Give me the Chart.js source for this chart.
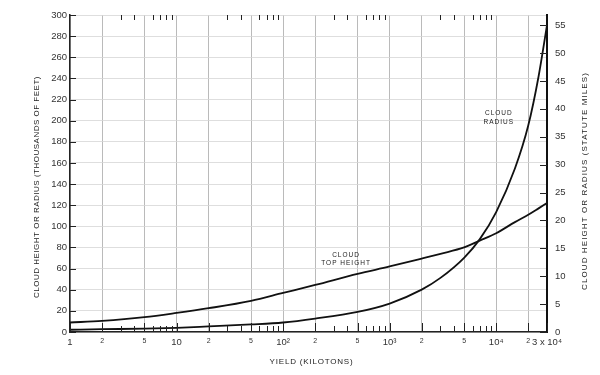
<!DOCTYPE html>
<html>
<head>
<meta charset="utf-8">
<script src="https://cdn.jsdelivr.net/npm/chart.js@4.4.0/dist/chart.umd.min.js"></script>
<style>
  body { margin: 0; background: #fff; }
  #wrap { width: 600px; height: 375px; }
</style>
</head>
<body>
<div id="wrap"><canvas id="cloudChart" width="600" height="375"></canvas></div>
<script>
// Yield in kilotons (log axis)
const yields = [1, 2, 5, 10, 20, 50, 100, 200, 500, 1000, 2000, 3000, 5000, 7000, 10000, 15000, 20000, 25000, 30000];
// Cloud top height, thousands of feet
const topHeight = [9, 10.5, 14, 18, 22.5, 29.5, 37, 44.5, 55, 62, 69.5, 74, 80, 86.5, 93.5, 104, 111, 117, 122];
// Cloud radius, statute miles
const radius = [0.4, 0.5, 0.6, 0.75, 1.0, 1.35, 1.7, 2.4, 3.6, 5.1, 7.6, 9.7, 13.3, 16.6, 21.5, 29.3, 37, 45.8, 55];

// Tick labels
const xTickValues = [1, 2, 5, 10, 20, 50, 100, 200, 500, 1000, 2000, 5000, 10000, 20000, 30000];
const xTickLabels = ['1', '2', '5', '10', '2', '5', '10²', '2', '5', '10³', '2', '5', '10⁴', '2', '3 x 10⁴'];
const xMajorLabels = ['1', '10', '10²', '10³', '10⁴', '3 x 10⁴'];
const minorSteps = [3, 4, 6, 7, 8, 9];

const FEET_PER_MILE = 5.28; // thousands of feet in a mile
const leftMax = 300;

const font = "'Liberation Sans', 'DejaVu Sans', sans-serif";

function toPoints(values) {
    return yields.map((x, i) => ({ x: x, y: values[i] }));
}

// draws axis titles, inward tick marks and curve labels
const decorations = {
    id: 'decorations',
    afterDraw(chart) {
        const ctx = chart.ctx;
        const a = chart.chartArea;
        const x = chart.scales.x, y = chart.scales.y, y2 = chart.scales.y2;

        function line(x1, y1, x2, y2_) {
            ctx.beginPath();
            ctx.moveTo(x1, y1);
            ctx.lineTo(x2, y2_);
            ctx.stroke();
        }

        ctx.save();
        ctx.strokeStyle = '#222';
        ctx.lineWidth = 1;

        // left axis ticks, pointing in
        y.ticks.forEach(t => {
            const py = Math.round(y.getPixelForValue(t.value)) + 0.5;
            line(a.left, py, a.left + 6, py);
        });
        // right axis ticks, pointing in
        y2.ticks.forEach(t => {
            const py = Math.round(y2.getPixelForValue(t.value)) + 0.5;
            line(a.right - 7, py, a.right, py);
        });
        // x axis: major ticks at bottom
        xTickValues.forEach(v => {
            const px = Math.round(x.getPixelForValue(v)) + 0.5;
            line(px, a.bottom, px, a.bottom - 9);
        });
        // x axis: minor ticks at bottom and top
        for (let d = 1; d <= 1000; d *= 10) {
            minorSteps.forEach(s => {
                const px = Math.round(x.getPixelForValue(s * d)) + 0.5;
                line(px, a.bottom, px, a.bottom - 6);
                line(px, a.top, px, a.top + 5);
            });
        }

        // curve labels
        ctx.fillStyle = '#222';
        ctx.font = '6.5px ' + font;
        ctx.letterSpacing = '1px';
        ctx.textAlign = 'center';
        ctx.textBaseline = 'middle';
        const hx = x.getPixelForValue(390);
        ctx.fillText('CLOUD', hx, y.getPixelForValue(73));
        ctx.fillText('TOP HEIGHT', hx, y.getPixelForValue(65));
        const rx = x.getPixelForValue(10600);
        ctx.fillText('CLOUD', rx, y.getPixelForValue(207));
        ctx.fillText('RADIUS', rx, y.getPixelForValue(199));

        // axis titles
        ctx.font = '8px ' + font;
        ctx.letterSpacing = '0.5px';
        ctx.save();
        ctx.translate(37, 187);
        ctx.rotate(-Math.PI / 2);
        ctx.fillText('CLOUD HEIGHT OR RADIUS (THOUSANDS OF FEET)', 0, 0);
        ctx.restore();
        ctx.letterSpacing = '1.1px';
        ctx.save();
        ctx.translate(585, 181);
        ctx.rotate(-Math.PI / 2);
        ctx.fillText('CLOUD HEIGHT OR RADIUS (STATUTE MILES)', 0, 0);
        ctx.restore();
        ctx.letterSpacing = '0.8px';
        ctx.fillText('YIELD (KILOTONS)', (a.left + a.right) / 2 + 3, 362);

        ctx.restore();
    }
};

const chartCtx = document.getElementById('cloudChart').getContext('2d');
const cloudChart = new Chart(chartCtx, {
    type: 'line',
    data: {
        datasets: [{
            label: 'Cloud top height',
            data: toPoints(topHeight),
            yAxisID: 'y',
            borderColor: '#111',
            borderWidth: 1.8,
            pointRadius: 0,
            cubicInterpolationMode: 'monotone'
        }, {
            label: 'Cloud radius',
            data: toPoints(radius),
            yAxisID: 'y2',
            borderColor: '#111',
            borderWidth: 1.8,
            pointRadius: 0,
            cubicInterpolationMode: 'monotone'
        }]
    },
    options: {
        responsive: false,
        animation: false,
        layout: { padding: { top: 15, left: 0, right: 0, bottom: 0 } },
        plugins: {
            legend: { display: false },
            tooltip: { enabled: false }
        },
        scales: {
            x: {
                type: 'logarithmic',
                min: 1,
                max: 30000,
                afterBuildTicks(scale) {
                    scale.ticks = xTickValues.map(v => ({ value: v }));
                },
                afterFit(scale) { scale.height = 43; },
                grid: { color: '#a8a8a8', lineWidth: 0.8, drawTicks: false },
                border: { color: '#222', width: 1.5 },
                ticks: {
                    autoSkip: false,
                    maxRotation: 0,
                    padding: 5,
                    color: '#333',
                    font: c => ({
                        family: font,
                        size: (c.tick && xMajorLabels.includes(xTickLabels[c.index])) ? 9.5 : 7
                    }),
                    callback: (value, index) => xTickLabels[index]
                }
            },
            y: {
                position: 'left',
                min: 0,
                max: leftMax,
                afterFit(scale) { scale.width = 70; },
                grid: { color: '#d6d6d6', lineWidth: 0.8, drawTicks: false },
                border: { color: '#222', width: 1.5 },
                ticks: {
                    stepSize: 20,
                    padding: 3,
                    color: '#333',
                    font: { family: font, size: 9.5 }
                }
            },
            y2: {
                position: 'right',
                min: 0,
                max: leftMax / FEET_PER_MILE,
                afterFit(scale) { scale.width = 53; },
                grid: { drawOnChartArea: false, drawTicks: false },
                border: { color: '#111', width: 2 },
                ticks: {
                    stepSize: 5,
                    includeBounds: false,
                    padding: 8,
                    color: '#333',
                    font: { family: font, size: 9.5 }
                }
            }
        }
    },
    plugins: [decorations]
});
</script>
</body>
</html>
